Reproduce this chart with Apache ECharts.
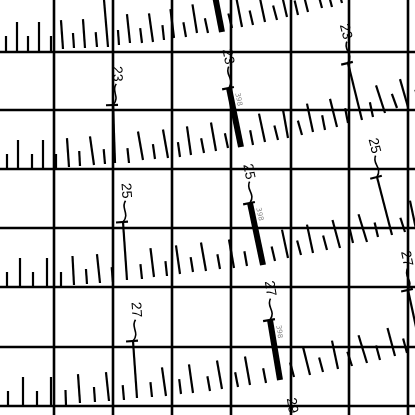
<!DOCTYPE html>
<html><head><meta charset="utf-8">
<script src="https://cdn.jsdelivr.net/npm/echarts@6/dist/echarts.min.js"></script>
<style>html,body{margin:0;padding:0;background:#fff}#c{width:415px;height:415px}</style>
</head><body><div id="c"></div>
<script>
// grid line positions on the value axes
const gridXs = [54, 113, 172, 231, 291, 349, 408];
const gridYs = [52, 110, 169, 228, 287, 347, 406];

// ruler ticks per band: [baseX, baseY, kind (0 short, 1 long), tilt in degrees]
const band1 = [
  [6,51,0,0],[17,51,1,0],[28,51,0,0],[39,51,1,0],[51,51,0,0],[63,49,1,4],[74,48,0,4],[85,48,1,4],[97,47,0,5],
  [119,45,0,4],[130,43,1,6],[142,43,0,7],[153,42,1,8],[164,40,0,6],[174,38,1,7],[186,37,0,10],[197,33,1,9],[208,33,0,12],
  [232,28,0,14],[242,27,1,11],[253,25,0,13],[265,22,1,12],[277,20,0,15],[287,17,1,13],[298,15,0,13],[308,12,1,14],[322,8,0,15],[332,7,1,15],[342,3,0,15]
];
const band2 = [
  [7,169,0,0],[18,169,1,0],[32,169,0,0],[43,169,1,0],[56,169,0,0],[69,167,1,4],[80,166,0,3],[94,165,1,8],[105,164,0,5],
  [129,163,0,6],[143,160,1,10],[155,159,0,8],[168,158,1,10],[180,157,0,8],[191,155,1,8],[204,153,0,11],[216,151,1,10],[228,148,0,12],
  [253,145,0,11],[265,142,1,12],[278,140,0,14],[288,138,1,10],[302,135,0,16],[313,132,1,12],[325,130,0,11],[337,127,1,14],[348,123,0,11],
  [373,117,0,12],[385,113,1,18],[397,108,0,20],[408,107,1,16],[420,104,0,18]
];
const band3 = [
  [7,287,0,0],[20,287,1,0],[33,287,0,0],[47,287,1,0],[61,287,0,0],[74,285,1,3],[87,284,0,4],[100,283,1,6],[113,282,0,5],
  [142,279,0,6],[154,277,1,7],[167,276,0,6],[180,274,1,8],[193,272,0,9],[206,271,1,10],[220,269,0,10],[234,268,1,10],[247,266,0,10],
  [275,261,0,13],[288,258,1,12],[301,255,0,15],[313,253,1,12],[327,250,0,15],[340,248,1,15],[353,243,0,13],[367,242,1,17],[378,237,0,13],
  [405,232,0,18],[416,229,1,12]
];
const band4 = [
  [8,406,0,0],[23,406,1,0],[37,406,0,0],[51,406,1,0],[66,405,0,2],[80,403,1,4],[95,402,0,4],[109,401,1,6],[124,400,0,5],
  [152,397,0,6],[166,396,1,8],[181,394,0,7],[193,393,1,8],[210,391,0,10],[222,389,1,10],[238,387,0,11],[250,385,1,10],[266,383,0,11],
  [294,377,0,15],[310,375,1,14],[323,372,0,15],[338,369,1,12],[352,366,0,18],[367,363,1,17],[380,360,0,15],[395,356,1,15],[407,353,0,15]
];
// labelled major ticks: [baseX, baseY, crossbarX, crossbarY, label, thick (1) or thin (0)]
const pins = [
  [108,47,103,-12,21,0],[222,32,210,-30,21,1],
  [115,163,113,105,23,0],[241,147,229,88,23,1],[362,120,348,63,23,0],
  [127,280,123,222,25,0],[263,265,250,203,25,1],[392,235,377,177,25,0],
  [137,398,133,341,27,0],[280,380,270,320,27,1],[421,350,408,290,27,0],
  [302,498,292,437,29,1]
];

const ticks = [].concat(band1, band2, band3, band4);
const chart = echarts.init(document.getElementById('c'), null, {renderer: 'canvas'});

function vline(params, api) {
  const a = api.coord([api.value(0), 0]);
  const b = api.coord([api.value(0), 415]);
  return {type: 'line', shape: {x1: a[0], y1: a[1], x2: b[0], y2: b[1]}, style: {stroke: '#000', lineWidth: 2.6}};
}
function hline(params, api) {
  const a = api.coord([0, api.value(1)]);
  const b = api.coord([415, api.value(1)]);
  return {type: 'line', shape: {x1: a[0], y1: a[1], x2: b[0], y2: b[1]}, style: {stroke: '#000', lineWidth: 2.6}};
}
function tickItem(params, api) {
  const p = api.coord([api.value(0), api.value(1)]);
  const len = api.value(2) ? 29 : 15;
  const t = api.value(3) * Math.PI / 180;
  return {type: 'line', shape: {x1: p[0], y1: p[1], x2: p[0] - len * Math.sin(t), y2: p[1] - len * Math.cos(t)},
    style: {stroke: '#000', lineWidth: 2.2}};
}
function pinItem(params, api) {
  const b = api.coord([api.value(0), api.value(1)]);
  const c = api.coord([api.value(2), api.value(3)]);
  const label = String(api.value(4));
  const thick = api.value(5) === 1;
  let ux = c[0] - b[0], uy = c[1] - b[1];
  const L = Math.hypot(ux, uy); ux /= L; uy /= L;
  const rx = -uy, ry = ux;
  const t = Math.atan2(-ux, -uy);
  const rot = -(Math.PI / 2 - t);
  const P = (a, r) => [c[0] + a * ux + r * rx, c[1] + a * uy + r * ry];
  const p1 = P(8, 8), p2 = P(14, -2), p3 = P(21, 4);
  const lab = P(31, 5);
  const cb1 = P(0, -7), cb2 = P(0, 5);
  const children = [
    {type: 'line', shape: {x1: b[0], y1: b[1], x2: c[0], y2: c[1]}, style: {stroke: '#000', lineWidth: thick ? 6 : 2.2}},
    {type: 'line', shape: {x1: cb1[0], y1: cb1[1], x2: cb2[0], y2: cb2[1]}, style: {stroke: '#000', lineWidth: 2.2}},
    {type: 'bezierCurve', shape: {x1: c[0], y1: c[1], cpx1: p1[0], cpy1: p1[1], cpx2: p2[0], cpy2: p2[1], x2: p3[0], y2: p3[1]},
      style: {stroke: '#000', lineWidth: 1.6, fill: null}},
    {type: 'text', x: lab[0], y: lab[1], rotation: rot,
      style: {text: label, fill: '#000', font: '14px "Liberation Sans"', align: 'center', verticalAlign: 'middle'}}
  ];
  if (thick) {
    const g = P(-13, 7);
    children.push({type: 'text', x: g[0], y: g[1], rotation: rot,
      style: {text: '398', fill: '#888', font: '7px "DejaVu Sans"', align: 'center', verticalAlign: 'middle'}});
  }
  return {type: 'group', children};
}

chart.setOption({
  animation: false,
  grid: {left: 0, top: 0, width: 415, height: 415},
  xAxis: {type: 'value', min: 0, max: 415, show: false},
  yAxis: {type: 'value', min: 0, max: 415, inverse: true, show: false},
  series: [
    {type: 'custom', renderItem: vline, data: gridXs.map(v => [v, 0]), clip: false, silent: true},
    {type: 'custom', renderItem: hline, data: gridYs.map(v => [0, v]), clip: false, silent: true},
    {type: 'custom', renderItem: tickItem, data: ticks, clip: true, silent: true},
    {type: 'custom', renderItem: pinItem, data: pins, clip: true, silent: true}
  ]
});
</script>
</body></html>
